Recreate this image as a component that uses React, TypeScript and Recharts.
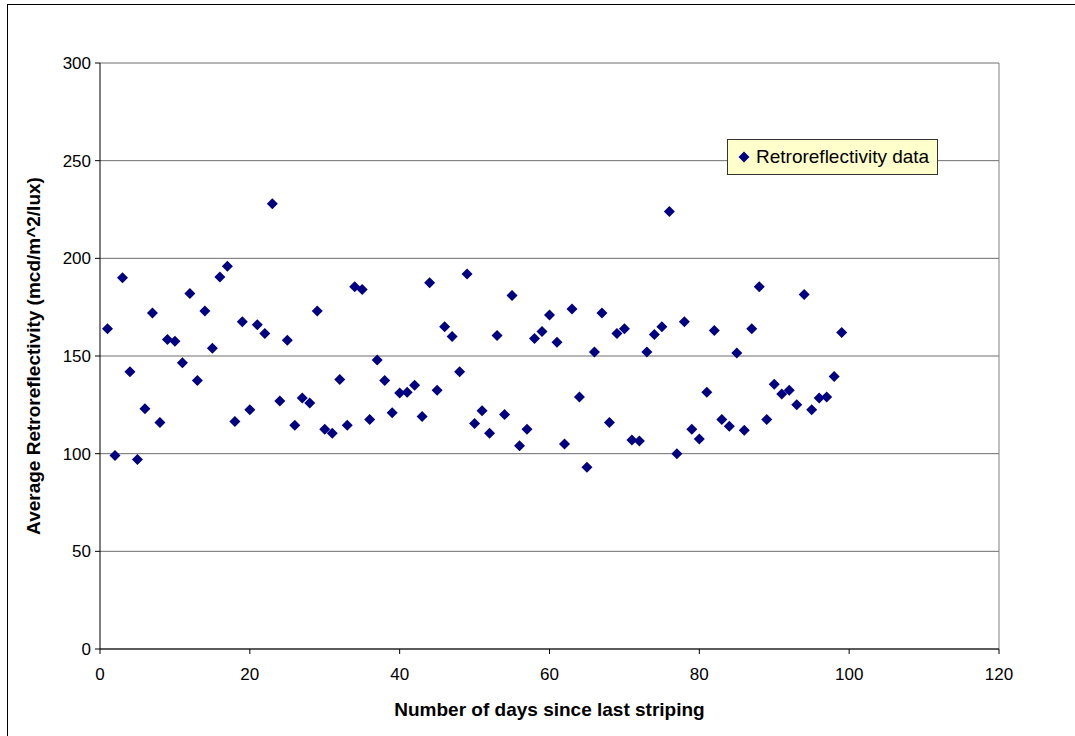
import React from "react";
import {
  ScatterChart,
  Scatter,
  XAxis,
  YAxis,
  CartesianGrid,
  ReferenceLine,
  Legend,
} from "recharts";

// days since last striping
const days = [
  1, 2, 3, 4, 5, 6, 7, 8, 9, 10,
  11, 12, 13, 14, 15, 16, 17, 18, 19, 20,
  21, 22, 23, 24, 25, 26, 27, 28, 29, 30,
  31, 32, 33, 34, 35, 36, 37, 38, 39, 40,
  41, 42, 43, 44, 45, 46, 47, 48, 49, 50,
  51, 52, 53, 54, 55, 56, 57, 58, 59, 60,
  61, 62, 63, 64, 65, 66, 67, 68, 69, 70,
  71, 72, 73, 74, 75, 76, 77, 78, 79, 80,
  81, 82, 83, 84, 85, 86, 87, 88, 89, 90,
  91, 92, 93, 94, 95, 96, 97, 98, 99,
];

// average retroreflectivity (mcd/m^2/lux)
const retro = [
  164, 99, 190, 142, 97, 123, 172, 116, 158.5, 157.5,
  146.5, 182, 137.5, 173, 154, 190.5, 196, 116.5, 167.5, 122.5,
  166, 161.5, 228, 127, 158, 114.5, 128.5, 126, 173, 112.5,
  110.5, 138, 114.5, 185.5, 184, 117.5, 148, 137.5, 121, 131,
  131.5, 135, 119, 187.5, 132.5, 165, 160, 142, 192, 115.5,
  122, 110.5, 160.5, 120, 181, 104, 112.5, 159, 162.5, 171,
  157, 105, 174, 129, 93, 152, 172, 116, 161.5, 164,
  107, 106.5, 152, 161, 165, 224, 100, 167.5, 112.5, 107.5,
  131.5, 163, 117.5, 114, 151.5, 112, 164, 185.5, 117.5, 135.5,
  130.5, 132.5, 125, 181.5, 122.5, 128.5, 129, 139.5, 162,
];

const xTicks = [0, 20, 40, 60, 80, 100, 120];
const yTicks = [0, 50, 100, 150, 200, 250, 300];

const seriesName = "Retroreflectivity data";
const data = days.map((d, i) => ({ day: d, value: retro[i] }));

const FONT = '"Liberation Sans", Arial, sans-serif';
const NAVY = "#000080";

const Diamond = (props: any) => {
  const { cx, cy } = props;
  if (cx == null || cy == null) return null;
  const r = 5.5;
  return (
    <polygon
      points={`${cx},${cy - r} ${cx + r},${cy} ${cx},${cy + r} ${cx - r},${cy}`}
      fill={NAVY}
    />
  );
};

const LegendBox = () => (
  <div
    style={{
      background: "#FFFFCC",
      border: "1px solid #333",
      padding: "6px 8px 6px 10px",
      display: "flex",
      alignItems: "center",
      fontFamily: FONT,
      fontSize: 19,
      color: "#000",
      whiteSpace: "nowrap",
    }}
  >
    <svg width={12} height={12} style={{ marginRight: 6 }}>
      <polygon points="6,0.5 11.5,6 6,11.5 0.5,6" fill={NAVY} />
    </svg>
    {seriesName}
  </div>
);

export default function App() {
  return (
    <div
      style={{
        position: "absolute",
        left: 0,
        top: 0,
        width: 1075,
        height: 736,
        overflow: "hidden",
        background: "#fff",
      }}
    >
      <div
        style={{
          position: "absolute",
          left: 7,
          top: 4,
          width: 1200,
          height: 900,
          border: "1px solid #000",
        }}
      />
      <ScatterChart
        width={1075}
        height={736}
        margin={{ top: 63, right: 76, left: 40, bottom: 37 }}
        style={{ fontFamily: FONT }}
      >
        <CartesianGrid
          vertical={false}
          stroke="#6e6e6e"
          strokeDasharray=""
        />
        <XAxis
          type="number"
          dataKey="day"
          domain={[0, 120]}
          ticks={xTicks}
          interval={0}
          height={50}
          stroke="#000"
          tickSize={5}
          tickMargin={14}
          tick={{ fill: "#000", fontSize: 17 }}
          label={{
            value: "Number of days since last striping",
            position: "insideBottom",
            offset: -17,
            fill: "#000",
            fontSize: 19,
            fontWeight: "bold",
          }}
        />
        <YAxis
          type="number"
          dataKey="value"
          domain={[0, 300]}
          ticks={yTicks}
          interval={0}
          width={60}
          stroke="#000"
          tickSize={5}
          tickMargin={4}
          tick={{ fill: "#000", fontSize: 17 }}
          label={{
            value: "Average Retroreflectivity (mcd/m^2/lux)",
            angle: -90,
            position: "insideLeft",
            offset: -7,
            style: { textAnchor: "middle" },
            fill: "#000",
            fontSize: 19,
            fontWeight: "bold",
          }}
        />
        <ReferenceLine x={120} stroke="#808080" />
        <Legend
          layout="horizontal"
          verticalAlign="middle"
          align="center"
          wrapperStyle={{ left: 727, top: 139, width: "auto" }}
          content={() => <LegendBox />}
        />
        <Scatter
          name={seriesName}
          data={data}
          fill={NAVY}
          shape={<Diamond />}
          isAnimationActive={false}
        />
      </ScatterChart>
    </div>
  );
}
